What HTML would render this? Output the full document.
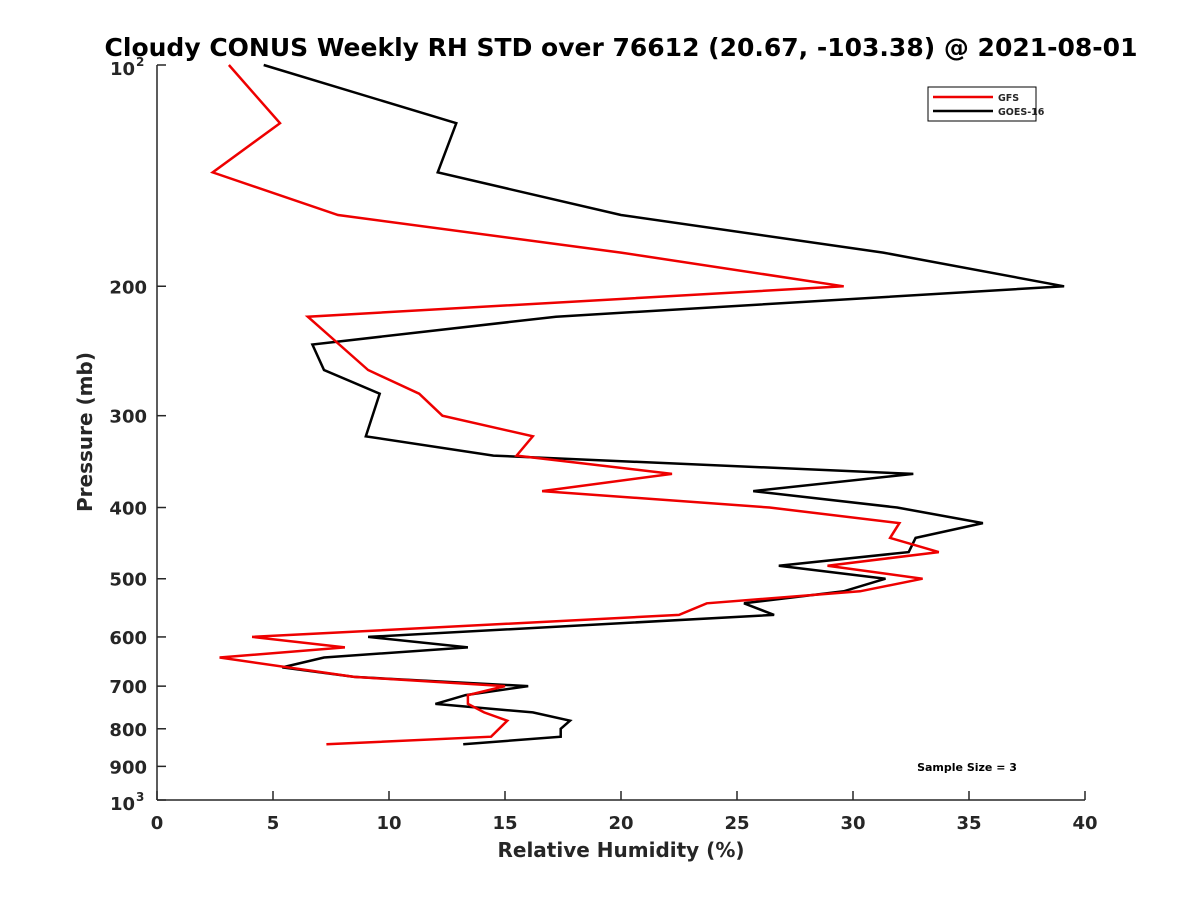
<!DOCTYPE html>
<html><head><meta charset="utf-8"><style>
body{margin:0;background:#fff;}
svg text{font-family:"DejaVu Sans","Liberation Sans",sans-serif;font-weight:bold;fill:#262626;}
</style></head><body>
<svg id="chart" width="1200" height="900" xmlns="http://www.w3.org/2000/svg">
<rect width="1200" height="900" fill="#fff"/>
<text x="621" y="56" font-size="25" text-anchor="middle" fill="#000" style="fill:#000">Cloudy CONUS Weekly RH STD over 76612 (20.67, -103.38) @ 2021-08-01</text>
<g id="axes"></g>
<g id="series"></g>
<text x="621" y="857" font-size="20" text-anchor="middle">Relative Humidity (%)</text>
<text transform="translate(92,432) rotate(-90)" font-size="20" text-anchor="middle">Pressure (mb)</text>
<g>
<rect x="928" y="87" width="108" height="34" fill="#fff" stroke="#000" stroke-width="1"/>
<line x1="933" y1="97" x2="993" y2="97" stroke="#e00" stroke-width="2.5"/>
<text x="998" y="101" font-size="9.5">GFS</text>
<line x1="933" y1="111" x2="993" y2="111" stroke="#000" stroke-width="2.5"/>
<text x="998" y="115" font-size="9.5">GOES-16</text>
</g>
<text x="967" y="771" font-size="11" text-anchor="middle" fill="#000" style="fill:#000">Sample Size = 3</text>
</svg>
<script>
const gfsP=[100,120,140,160,180,200,220,260,280,300,320,340,360,380,400,420,440,460,480,500,520,540,560,600,620,640,680,700,720,740,760,780,820,840];
const gfsRH=[3.1,5.3,2.4,7.8,20.0,29.6,6.5,9.1,11.3,12.3,16.2,15.5,22.2,16.6,26.4,32.0,31.6,33.7,28.9,33.0,30.3,23.7,22.5,4.1,8.1,2.7,8.5,15.0,13.4,13.4,14.1,15.1,14.4,7.3];
const goesP=[100,120,140,160,180,200,220,240,260,280,320,340,360,380,400,420,440,460,480,500,520,540,560,600,620,640,660,680,700,720,740,760,780,800,820,840];
const goesRH=[4.6,12.9,12.1,20.0,31.3,39.1,17.2,6.7,7.2,9.6,9.0,14.5,32.6,25.7,31.9,35.6,32.7,32.4,26.8,31.4,29.6,25.3,26.6,9.1,13.4,7.2,5.4,8.5,16.0,13.3,12.0,16.2,17.8,17.4,17.4,13.2];
const xTicks=[0,5,10,15,20,25,30,35,40];
const yTicks=[200,300,400,500,600,700,800,900];
const X0=157,X1=1085,Y0=65,Y1=800;
function xs(v){return X0+(v-0)/(40-0)*(X1-X0);}
function ys(p){return Y0+(Math.log10(p)-2)*(Y1-Y0);}
const NS="http://www.w3.org/2000/svg";
function mk(tag,attrs,parent,txt){const e=document.createElementNS(NS,tag);for(const k in attrs)e.setAttribute(k,attrs[k]);if(txt!==undefined)e.textContent=txt;parent.appendChild(e);return e;}
const ax=document.getElementById('axes');
let l=mk('line',{x1:X0,y1:Y0,x2:X0,y2:Y1,stroke:'#262626','stroke-width':1.5},ax);


l=mk('line',{x1:X0,y1:Y1,x2:X1,y2:Y1,stroke:'#262626','stroke-width':1.5},ax);


xTicks.forEach(v=>{const x=xs(v);
 const t=mk('line',{x1:x,y1:Y1,x2:x,y2:Y1-9,stroke:'#262626','stroke-width':1.5},ax);
 
 
 const tx=mk('text',{x:x,y:Y1+29,'font-size':18,'text-anchor':'middle'},ax,String(v));
 
 
});
[100].concat(yTicks,[1000]).forEach(p=>{const y=ys(p);
 const t=mk('line',{x1:X0,y1:y,x2:X0+9,y2:y,stroke:'#262626','stroke-width':1.5},ax);
 
 
});
yTicks.forEach(p=>{const y=ys(p);
 const tx=mk('text',{x:X0-10,y:y+7,'font-size':18,'text-anchor':'end'},ax,String(p));
 
 
});
[[100,'2'],[1000,'3']].forEach(([p,e])=>{const y=ys(p);
 const tx=mk('text',{x:X0-22,y:y+10,'font-size':18,'text-anchor':'end'},ax,'10');
 
 
 const sx=mk('text',{x:X0-21,y:y+1,'font-size':12},ax,e);
 
 
});
const sg=document.getElementById('series');
function line(P,V,color,name){
 const pts=P.map((p,i)=>xs(V[i]).toFixed(1)+','+ys(p).toFixed(1)).join(' ');
 const pl=mk('polyline',{points:pts,fill:'none',stroke:color,'stroke-width':2.5,'stroke-linejoin':'miter'},sg);
 
 
}
line(goesP,goesRH,'#000','goes16-line');
line(gfsP,gfsRH,'#e00','gfs-line');
</script>
</body></html>
